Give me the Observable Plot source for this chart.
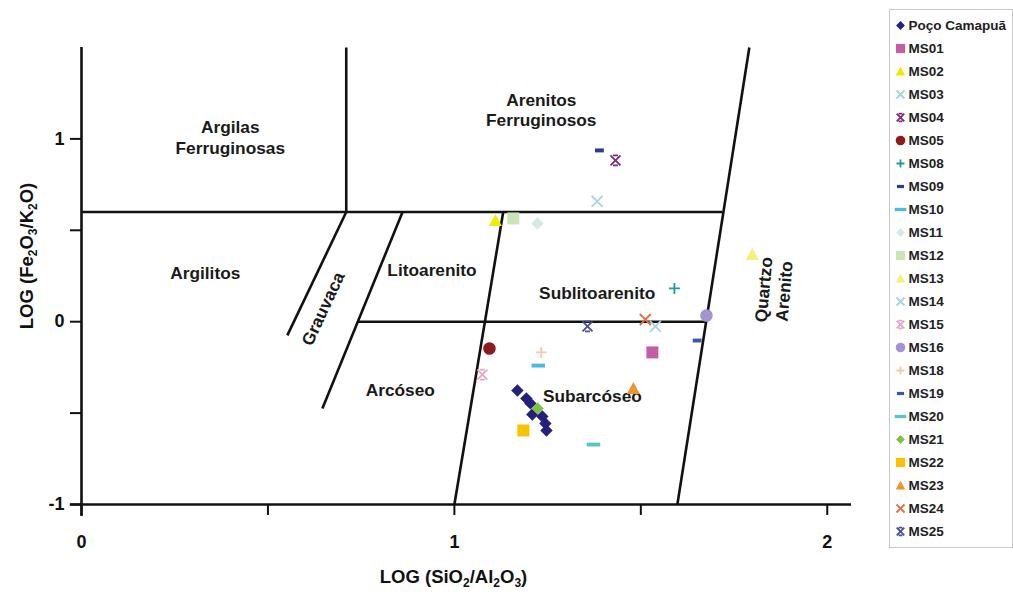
<!DOCTYPE html>
<html><head><meta charset="utf-8">
<script src="https://cdn.jsdelivr.net/npm/d3@7"></script>
<script src="https://cdn.jsdelivr.net/npm/@observablehq/plot@0.6"></script>
<style>
body{margin:0;background:#fff;font-family:"Liberation Sans",Arial,sans-serif;}
#wrap{position:relative;width:1013px;height:592px;overflow:hidden;}
#chart{position:absolute;left:0;top:0;}
#legend{position:absolute;left:889px;top:9px;border:1px solid #c8c8c8;width:122px;height:537px;background:#fff;}
</style></head><body><div id="wrap"><div id="chart"></div><div id="legend"></div></div>
<script>
// ---- data ----
const seriesNames = ["Poço Camapuã","MS01","MS02","MS03","MS04","MS05","MS08","MS09","MS10","MS11","MS12","MS13","MS14","MS15","MS16","MS18","MS19","MS20","MS21","MS22","MS23","MS24","MS25"];
const seriesColors = ["#24217a","#c45ca6","#f2ea00","#a9d2e1","#7e2d7b","#8a1c1c","#1c9e9b","#2c3d8f","#4ab9e3","#d6eae4","#cde3b8","#f4f07a","#a8d3e3","#e6a6c6","#a393d0","#f3c9a8","#3a5aa5","#5bc2c9","#7fc241","#f9c200","#f0922e","#e0703e","#4a4f95"];
const seriesShapes = ["diamond","square","triangle","times","star","circle","plus","dash","longdash","diamond","square","triangle","times","star","circle","plus","dash","longdash","diamond","square","triangle","times","star"];
const seriesX = [
  [1.169,1.193,1.204,1.209,1.236,1.244,1.247],
  [1.531],[1.110],[1.383],[1.432],[1.094],[1.590],[1.389],[1.225],[1.223],[1.158],[1.799],
  [1.539],[1.075],[1.676],[1.233],[1.651],[1.373],[1.223],[1.185],[1.480],[1.512],[1.357]
];
const seriesY = [
  [-0.376,-0.420,-0.447,-0.508,-0.519,-0.557,-0.595],
  [-0.168],[0.554],[0.658],[0.882],[-0.147],[0.182],[0.937],[-0.240],[0.537],[0.565],[0.368],
  [-0.026],[-0.289],[0.034],[-0.168],[-0.103],[-0.672],[-0.475],[-0.595],[-0.365],[0.012],[-0.026]
];
// classification field boundaries
const boundaryX1 = [0, 0.71, 0.552, 0.646, 0.741, 1.0, 1.598];
const boundaryY1 = [0.6, 0.6, -0.075, -0.475, 0.0, -1, -1];
const boundaryX2 = [1.718, 0.71, 0.71, 0.861, 1.676, 1.131, 1.791];
const boundaryY2 = [0.6, 1.5, 0.6, 0.6, 0.0, 0.6, 1.5];
const fieldNames = ["Argilas\nFerruginosas","Arenitos\nFerruginosos","Argilitos","Grauvaca","Litoarenito","Sublitoarenito","Quartzo\nArenito","Arcóseo","Subarcóseo"];
const fieldX = [0.399,1.233,0.332,0.646,0.940,1.383,1.855,0.855,1.370];
const fieldY = [1.013,1.161,0.272,0.072,0.286,0.160,0.171,-0.371,-0.404];
const fieldRotate = [0,0,0,-65,0,0,-85,0,0];
const xTicks = [0,0.5,1,1.5,2];
const yTicks = [-1,-0.5,0,0.5,1];
const xLabel = "LOG (SiO2/Al2O3)";
const yLabel = "LOG (Fe2O3/K2O)";

// ---- symbols ----
const strokeKinds = new Set(["times","plus","star"]);
function sym(kind, s){
  switch(kind){
    case "diamond": return {draw(c){c.moveTo(0,-s);c.lineTo(s,0);c.lineTo(0,s);c.lineTo(-s,0);c.closePath();}};
    case "square": return {draw(c){c.rect(-s,-s,2*s,2*s);}};
    case "triangle": return {draw(c){c.moveTo(0,-s);c.lineTo(s,s*0.85);c.lineTo(-s,s*0.85);c.closePath();}};
    case "circle": return {draw(c){c.moveTo(s,0);c.arc(0,0,s,0,2*Math.PI);}};
    case "times": return {draw(c){c.moveTo(-s,-s);c.lineTo(s,s);c.moveTo(s,-s);c.lineTo(-s,s);}};
    case "plus": return {draw(c){c.moveTo(-s,0);c.lineTo(s,0);c.moveTo(0,-s);c.lineTo(0,s);}};
    case "star": return {draw(c){c.moveTo(-s,-s);c.lineTo(s,s);c.moveTo(s,-s);c.lineTo(-s,s);c.moveTo(-s*0.5,-s);c.lineTo(s*0.5,-s);c.moveTo(-s*0.5,s);c.lineTo(s*0.5,s);}};
    case "dash": return {draw(c){c.rect(-s*0.85,-s*0.38,s*1.7,s*0.76);}};
    case "longdash": return {draw(c){c.rect(-s*1.25,-s*0.36,s*2.5,s*0.72);}};
  }
}
const mainSize = {diamond:6.2,square:6,triangle:6.5,circle:6.3,times:5.5,plus:5.5,star:5,dash:5.2,longdash:5.4};
const legSize = {diamond:4.4,square:4.6,triangle:4.8,circle:4.8,times:4,plus:4,star:3.8,dash:4.2,longdash:4.6};

function dotMark(data, xf, yf, i, sizes){
  const kind = seriesShapes[i];
  const base = {x: xf, y: yf, symbol: sym(kind, sizes[kind]), r: 5};
  if (strokeKinds.has(kind)) return Plot.dot(data, {...base, stroke: seriesColors[i], fill: "none", strokeWidth: 1.8});
  return Plot.dot(data, {...base, fill: seriesColors[i], stroke: "none"});
}

const idx = n => d3.range(n);
const font = "Liberation Sans, Arial, sans-serif";

const marks = [
  Plot.link(idx(boundaryX1.length), {x1: i=>boundaryX1[i], y1: i=>boundaryY1[i], x2: i=>boundaryX2[i], y2: i=>boundaryY2[i], stroke: "#111", strokeWidth: 2.6}),
  Plot.ruleX([0], {y1: () => -1.065, y2: () => 1.5, stroke: "#111", strokeWidth: 2.6}),
  Plot.ruleY([-1], {x1: () => -0.03, x2: () => 2.065, stroke: "#111", strokeWidth: 2.6}),
  Plot.axisX(xTicks, {tickSize: 11, tickPadding: 20, strokeWidth: 2, stroke: "#111", tickFormat: d => Number.isInteger(d) ? String(d) : "", fontSize: 18, fontWeight: "bold", fill: "#111", label: null}),
  Plot.axisY(yTicks, {tickSize: 11, tickPadding: 6, strokeWidth: 2, stroke: "#111", tickFormat: d => Number.isInteger(d) ? String(d) : "", fontSize: 18, fontWeight: "bold", fill: "#111", label: null}),
  Plot.text(idx(fieldNames.length), {x: i=>fieldX[i], y: i=>fieldY[i], text: i=>fieldNames[i], rotate: i=>fieldRotate[i], fontSize: 17.3, fontWeight: "bold", fill: "#1a1a1a", lineHeight: 1.2}),
  Plot.text([xLabel], {frameAnchor: "bottom", textAnchor: "middle", lineAnchor: "middle", dx: -13, dy: 73, text: d=>d, fontSize: 18.5, fontWeight: "bold", fill: "#111"}),
  Plot.text([yLabel], {frameAnchor: "left", textAnchor: "middle", lineAnchor: "middle", dx: -54, dy: -20, rotate: -90, text: d=>d, fontSize: 18.5, fontWeight: "bold", fill: "#111"})
];
seriesNames.forEach((name, i) => {
  marks.push(dotMark(idx(seriesX[i].length), j=>seriesX[i][j], j=>seriesY[i][j], i, mainSize));
});

const chart = Plot.plot({
  width: 885, height: 592,
  marginLeft: 81, marginRight: 34, marginTop: 47, marginBottom: 88,
  x: {domain: [0, 2.065], axis: null},
  y: {domain: [-1, 1.5], axis: null},
  style: {fontFamily: font, background: "white", overflow: "visible"},
  marks
});
document.getElementById("chart").append(chart);

// subscripts in the axis titles
function subscriptify(label){
  const parts = label.split(/(\d)/).filter(p => p !== "");
  let prevSub = false, html = "";
  for (const p of parts) {
    if (/^\d$/.test(p)) { html += `<tspan dy="4" font-size="12">${p}</tspan>`; prevSub = true; }
    else { html += prevSub ? `<tspan dy="-4">${p}</tspan>` : `<tspan>${p}</tspan>`; prevSub = false; }
  }
  d3.select(chart).selectAll("text").filter(function(){ return this.textContent === label; }).html(html);
}
subscriptify(xLabel);
subscriptify(yLabel);

// ---- legend ----
const legMarks = [];
seriesNames.forEach((name, i) => {
  legMarks.push(dotMark([name], () => 10, d => d, i, legSize));
});
legMarks.push(Plot.text(seriesNames, {x: () => 18, y: d => d, text: d => d, textAnchor: "start", fontSize: 13.5, fontWeight: "bold", fill: "#222"}));
const legend = Plot.plot({
  width: 122, height: 537,
  margin: 0,
  x: {domain: [0, 122], range: [0, 122], axis: null},
  y: {type: "point", domain: seriesNames, range: [10, 525], padding: 0, axis: null},
  style: {fontFamily: font, background: "white", overflow: "visible"},
  marks: legMarks
});
document.getElementById("legend").append(legend);
</script>
</body></html>
